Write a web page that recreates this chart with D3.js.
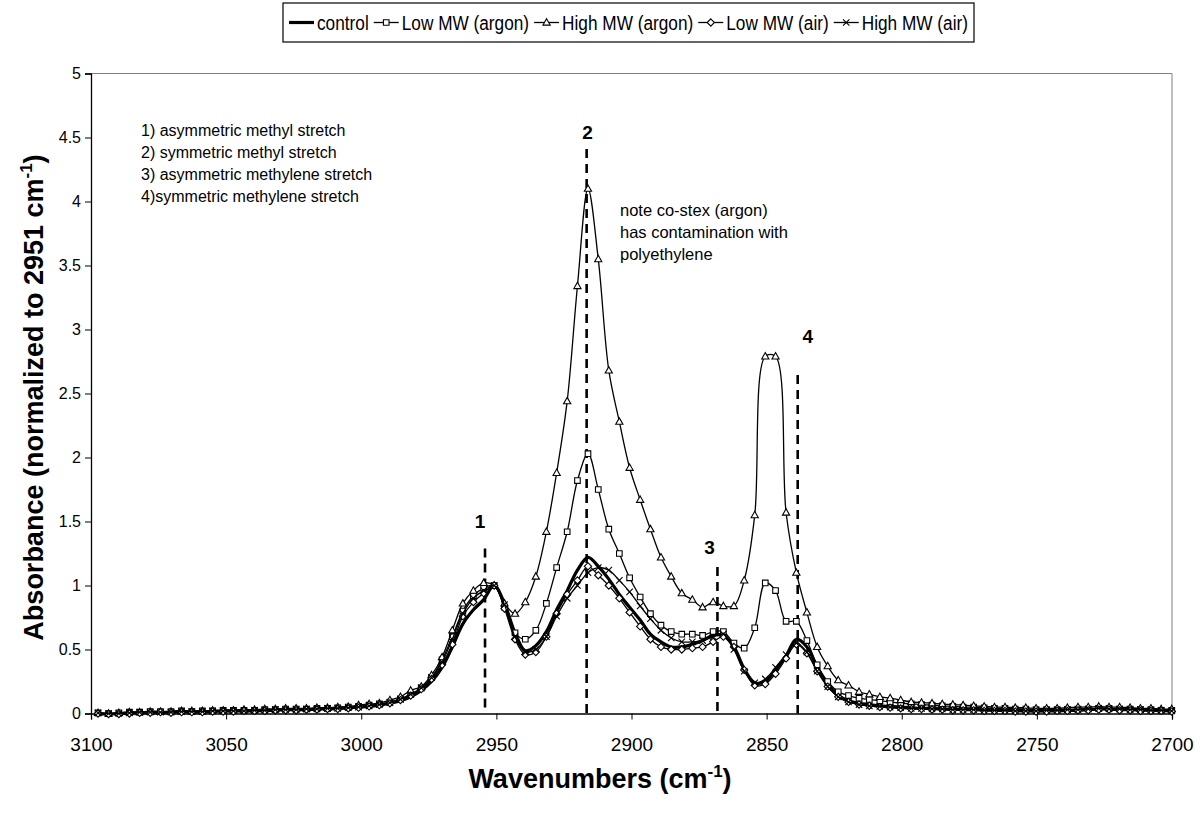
<!DOCTYPE html>
<html>
<head>
<meta charset="utf-8">
<script src="https://cdn.jsdelivr.net/npm/d3@7"></script>
<style>
  body { margin: 0; background: #fff; }
  text { font-family: "Liberation Sans", Arial, sans-serif; }
</style>
</head>
<body>
<svg id="chart" width="1203" height="818"></svg>
<script>
// Wavenumber grid (cm-1), one entry per recorded point
const wavenumbers = [
  3097.4, 3093.5, 3089.7, 3085.8, 3082.0, 3078.1, 3074.3, 3070.4, 3066.5, 3062.7,
  3058.8, 3055.0, 3051.1, 3047.3, 3043.4, 3039.5, 3035.7, 3031.8, 3028.0, 3024.1,
  3020.3, 3016.4, 3012.5, 3008.7, 3004.8, 3001.0, 2997.1, 2993.3, 2989.4, 2985.5,
  2981.7, 2977.8, 2974.0, 2970.1, 2966.3, 2962.4, 2958.5, 2954.7, 2950.8, 2947.0,
  2943.1, 2939.3, 2935.4, 2931.5, 2927.7, 2923.8, 2920.0, 2916.1, 2912.3, 2908.4,
  2904.5, 2900.7, 2896.8, 2893.0, 2889.1, 2885.3, 2881.4, 2877.5, 2873.7, 2869.8,
  2866.0, 2862.1, 2858.3, 2854.4, 2850.5, 2846.7, 2842.8, 2839.0, 2835.1, 2831.3,
  2827.4, 2823.5, 2819.7, 2815.8, 2812.0, 2808.1, 2804.3, 2800.4, 2796.5, 2792.7,
  2788.8, 2785.0, 2781.1, 2777.3, 2773.4, 2769.5, 2765.7, 2761.8, 2758.0, 2754.1,
  2750.3, 2746.4, 2742.5, 2738.7, 2734.8, 2731.0, 2727.1, 2723.3, 2719.4, 2715.5,
  2711.7, 2707.8, 2704.0, 2700.1
];

// Absorbance, normalized to the 2951 cm-1 band
const control = [
  0.00, -0.005, 0.00, 0.005, 0.005, 0.01, 0.01, 0.01, 0.015, 0.01,
  0.015, 0.015, 0.02, 0.02, 0.02, 0.02, 0.025, 0.025, 0.03, 0.03,
  0.03, 0.035, 0.035, 0.04, 0.045, 0.05, 0.055, 0.065, 0.08, 0.10,
  0.13, 0.18, 0.25, 0.36, 0.52, 0.70, 0.81, 0.89, 1.00, 0.86,
  0.63, 0.49, 0.53, 0.64, 0.81, 0.96, 1.12, 1.22, 1.15, 1.05,
  0.93, 0.83, 0.73, 0.62, 0.56, 0.52, 0.52, 0.54, 0.57, 0.61,
  0.61, 0.52, 0.35, 0.24, 0.25, 0.34, 0.45, 0.58, 0.52, 0.36,
  0.23, 0.14, 0.10, 0.08, 0.07, 0.06, 0.055, 0.05, 0.045, 0.04,
  0.04, 0.035, 0.035, 0.03, 0.03, 0.03, 0.025, 0.025, 0.025, 0.02,
  0.02, 0.02, 0.02, 0.025, 0.025, 0.03, 0.035, 0.035, 0.03, 0.03,
  0.03, 0.025, 0.025, 0.02
];

const lowMwArgon = [
  0.005, 0.00, 0.005, 0.01, 0.01, 0.015, 0.015, 0.015, 0.02, 0.015,
  0.02, 0.02, 0.025, 0.025, 0.025, 0.025, 0.03, 0.03, 0.035, 0.035,
  0.035, 0.04, 0.04, 0.045, 0.05, 0.055, 0.065, 0.075, 0.09, 0.115,
  0.15, 0.20, 0.28, 0.42, 0.60, 0.80, 0.92, 0.98, 1.00, 0.83,
  0.63, 0.58, 0.65, 0.86, 1.14, 1.42, 1.82, 2.03, 1.75, 1.44,
  1.25, 1.06, 0.91, 0.78, 0.69, 0.64, 0.62, 0.62, 0.61, 0.64,
  0.64, 0.55, 0.51, 0.67, 1.02, 0.96, 0.72, 0.72, 0.57, 0.38,
  0.25, 0.17, 0.14, 0.12, 0.11, 0.10, 0.09, 0.08, 0.075, 0.07,
  0.065, 0.06, 0.055, 0.05, 0.05, 0.045, 0.04, 0.04, 0.035, 0.035,
  0.03, 0.03, 0.03, 0.03, 0.035, 0.035, 0.04, 0.04, 0.035, 0.035,
  0.03, 0.03, 0.025, 0.025
];

const highMwArgon = [
  0.005, 0.00, 0.005, 0.01, 0.01, 0.015, 0.015, 0.015, 0.02, 0.02,
  0.02, 0.025, 0.025, 0.025, 0.03, 0.03, 0.035, 0.035, 0.04, 0.04,
  0.04, 0.045, 0.045, 0.05, 0.053, 0.066, 0.074, 0.08, 0.105, 0.13,
  0.18, 0.21, 0.30, 0.44, 0.65, 0.86, 0.96, 1.02, 1.00, 0.86,
  0.78, 0.87, 1.07, 1.42, 1.88, 2.44, 3.34, 4.10, 3.55, 2.68,
  2.28, 1.92, 1.67, 1.44, 1.22, 1.07, 0.94, 0.89, 0.83, 0.87,
  0.84, 0.84, 1.04, 1.55, 2.79, 2.79, 1.57, 1.10, 0.79, 0.52,
  0.37, 0.26, 0.22, 0.17, 0.15, 0.13, 0.12, 0.105, 0.09, 0.085,
  0.08, 0.074, 0.07, 0.065, 0.06, 0.055, 0.05, 0.05, 0.045, 0.045,
  0.04, 0.04, 0.04, 0.045, 0.05, 0.05, 0.055, 0.05, 0.05, 0.045,
  0.04, 0.04, 0.035, 0.035
];

const lowMwAir = [
  0.00, -0.005, -0.005, 0.00, 0.005, 0.005, 0.01, 0.005, 0.01, 0.01,
  0.01, 0.015, 0.015, 0.015, 0.02, 0.02, 0.02, 0.025, 0.025, 0.025,
  0.03, 0.03, 0.035, 0.035, 0.04, 0.045, 0.055, 0.065, 0.08, 0.105,
  0.14, 0.19, 0.27, 0.38, 0.54, 0.76, 0.87, 0.94, 1.00, 0.82,
  0.58, 0.46, 0.48, 0.60, 0.78, 0.93, 1.04, 1.15, 1.08, 1.00,
  0.90, 0.79, 0.68, 0.58, 0.52, 0.50, 0.50, 0.51, 0.52, 0.56,
  0.60, 0.52, 0.34, 0.22, 0.23, 0.31, 0.43, 0.54, 0.47, 0.33,
  0.21, 0.13, 0.09, 0.07, 0.06, 0.05, 0.045, 0.04, 0.035, 0.035,
  0.03, 0.03, 0.025, 0.025, 0.025, 0.02, 0.02, 0.02, 0.015, 0.015,
  0.015, 0.015, 0.02, 0.02, 0.025, 0.025, 0.03, 0.03, 0.025, 0.025,
  0.02, 0.02, 0.02, 0.015
];

const highMwAir = [
  0.005, 0.00, 0.00, 0.005, 0.01, 0.01, 0.01, 0.01, 0.015, 0.015,
  0.015, 0.02, 0.02, 0.02, 0.02, 0.025, 0.025, 0.03, 0.03, 0.03,
  0.035, 0.035, 0.04, 0.04, 0.045, 0.05, 0.06, 0.07, 0.085, 0.11,
  0.15, 0.20, 0.28, 0.40, 0.58, 0.78, 0.90, 0.96, 1.00, 0.85,
  0.60, 0.48, 0.50, 0.60, 0.76, 0.90, 1.00, 1.10, 1.14, 1.12,
  1.04, 0.95, 0.84, 0.74, 0.65, 0.59, 0.56, 0.56, 0.57, 0.60,
  0.62, 0.50, 0.33, 0.24, 0.27, 0.36, 0.46, 0.55, 0.48, 0.33,
  0.21, 0.13, 0.09, 0.07, 0.06, 0.055, 0.05, 0.045, 0.04, 0.04,
  0.035, 0.035, 0.03, 0.03, 0.03, 0.025, 0.025, 0.025, 0.02, 0.02,
  0.02, 0.025, 0.025, 0.03, 0.03, 0.035, 0.04, 0.035, 0.035, 0.03,
  0.03, 0.025, 0.025, 0.02
];

const seriesNames = ["control", "Low MW (argon)", "High MW (argon)", "Low MW (air)", "High MW (air)"];
const seriesMarkers = ["none", "square", "triangle", "diamond", "cross"];

const xTickValues = [3100, 3050, 3000, 2950, 2900, 2850, 2800, 2750, 2700];
const yTickValues = [0, 0.5, 1, 1.5, 2, 2.5, 3, 3.5, 4, 4.5, 5];

// Band assignments: marker line position (cm-1) and where the dashed line starts (absorbance)
const bandLabels = ["1", "2", "3", "4"];
const bandWavenumbers = [2954.2, 2916.6, 2868.2, 2838.5];
const bandLineTops = [1.29, 4.41, 1.145, 2.645];

const assignmentNotes = [
  "1) asymmetric methyl stretch",
  "2) symmetric methyl stretch",
  "3) asymmetric methylene stretch",
  "4)symmetric methylene stretch"
];
const contaminationNote = ["note co-stex (argon)", "has contamination with", "polyethylene"];

// ---------------------------------------------------------------------------
const svg = d3.select("#chart");
const plot = { left: 91, right: 1172, top: 73.5, bottom: 713.5 };

const x = d3.scaleLinear().domain([3100, 2700]).range([plot.left, plot.right]);
const y = d3.scaleLinear().domain([0, 5]).range([plot.bottom, plot.top]);

svg.append("rect").attr("width", 1203).attr("height", 818).attr("fill", "#fff");

// plot frame (top / right edges)
svg.append("path")
  .attr("d", `M${plot.left},${plot.top}H${plot.right}V${plot.bottom}`)
  .attr("fill", "none").attr("stroke", "#808080").attr("stroke-width", 1);

// axes
const xAxis = d3.axisBottom(x).tickValues(xTickValues).tickSize(6).tickFormat(d3.format("d"));
const gx = svg.append("g").attr("transform", `translate(0,${plot.bottom})`).call(xAxis);
gx.select(".domain").attr("stroke", "#000").attr("stroke-width", 1.3);
gx.selectAll(".tick line").attr("stroke", "#000");
gx.selectAll(".tick text").attr("font-size", 19).attr("y", 24).attr("dy", "0.71em")
  .style("font-family", '"Liberation Sans", Arial, sans-serif');

const yAxis = d3.axisLeft(y).tickValues(yTickValues).tickSize(6).tickFormat(d => String(d));
const gy = svg.append("g").attr("transform", `translate(${plot.left},0)`).call(yAxis);
gy.select(".domain").attr("stroke", "#000").attr("stroke-width", 1.3);
gy.selectAll(".tick line").attr("stroke", "#000");
gy.selectAll(".tick text").attr("font-size", 16).attr("x", -10)
  .style("font-family", '"Liberation Sans", Arial, sans-serif');

// axis titles
const xTitle = svg.append("text")
  .attr("x", 600).attr("y", 788)
  .attr("text-anchor", "middle").attr("font-size", 27).attr("font-weight", "bold");
xTitle.append("tspan").text("Wavenumbers (cm");
xTitle.append("tspan").attr("font-size", 17).attr("dy", -11).text("-1");
xTitle.append("tspan").attr("dy", 11).text(")");

const yTitle = svg.append("text")
  .attr("transform", `translate(43,${(plot.top + plot.bottom) / 2 + 4}) rotate(-90)`)
  .attr("text-anchor", "middle").attr("font-size", 27).attr("font-weight", "bold");
yTitle.append("tspan").text("Absorbance (normalized to 2951 cm");
yTitle.append("tspan").attr("font-size", 17).attr("dy", -11).text("-1");
yTitle.append("tspan").attr("dy", 11).text(")");

// dashed band markers
const bands = bandLabels.map((label, i) => ({ label, wn: bandWavenumbers[i], top: bandLineTops[i] }));
svg.append("g").selectAll("line").data(bands).join("line")
  .attr("x1", d => x(d.wn)).attr("x2", d => x(d.wn))
  .attr("y1", d => y(d.top)).attr("y2", plot.bottom)
  .attr("stroke", "#000").attr("stroke-width", 2.6).attr("stroke-dasharray", "9,6");

const labelOffsets = [[-5, -20], [1, -10], [-8, -13], [10, -32]];
svg.append("g").selectAll("text").data(bands).join("text")
  .attr("x", (d, i) => x(d.wn) + labelOffsets[i][0])
  .attr("y", (d, i) => y(d.top) + labelOffsets[i][1])
  .attr("text-anchor", "middle").attr("font-size", 19).attr("font-weight", "bold")
  .text(d => d.label);

// series
const allValues = [control, lowMwArgon, highMwArgon, lowMwAir, highMwAir];
const series = seriesNames.map((name, s) => ({
  name, marker: seriesMarkers[s],
  points: wavenumbers.map((wn, i) => ({ wn, v: allValues[s][i] }))
}));

const line = d3.line().x(d => x(d.wn)).y(d => y(d.v)).curve(d3.curveCatmullRom.alpha(0.5));

function markerPath(type) {
  switch (type) {
    case "square": return "M-2.8,-2.8H2.8V2.8H-2.8Z";
    case "triangle": return "M0,-3.8L3.6,2.6H-3.6Z";
    case "diamond": return "M0,-3.6L3.6,0L0,3.6L-3.6,0Z";
    case "cross": return "M-3.2,-3.2L3.2,3.2M-3.2,3.2L3.2,-3.2";
    default: return "";
  }
}

series.forEach(s => {
  const g = svg.append("g");
  g.append("path").datum(s.points)
    .attr("d", line).attr("fill", "none").attr("stroke", "#000")
    .attr("stroke-width", s.marker === "none" ? 3.2 : 1.3)
    .attr("stroke-linejoin", "round");
  if (s.marker !== "none") {
    g.selectAll("path.m").data(s.points).join("path").attr("class", "m")
      .attr("transform", d => `translate(${x(d.wn)},${y(d.v)})`)
      .attr("d", markerPath(s.marker))
      .attr("fill", s.marker === "cross" ? "none" : "#fff")
      .attr("stroke", "#000").attr("stroke-width", 1.1);
  }
});

// band assignment notes
const notes = svg.append("text").attr("x", 141).attr("y", 136).attr("font-size", 16);
assignmentNotes.forEach((t, i) => notes.append("tspan").attr("x", 141).attr("dy", i ? 22 : 0).text(t));

const note2 = svg.append("text").attr("x", 620).attr("y", 216).attr("font-size", 16.5);
contaminationNote.forEach((t, i) => note2.append("tspan").attr("x", 620).attr("dy", i ? 22 : 0).text(t));

// legend: box, then entries laid out left to right and condensed to fit the box
const boxLeft = 283, boxRight = 974, boxTop = 3, boxBottom = 42;
const legend = svg.append("g");
legend.append("rect")
  .attr("x", boxLeft).attr("y", boxTop).attr("width", boxRight - boxLeft).attr("height", boxBottom - boxTop)
  .attr("fill", "#fff").attr("stroke", "#000").attr("stroke-width", 1.2);

const legendFont = 20;
const sampleLen = 25, textGap = 3, itemGap = 5, pad = 6;
const entries = series.map(s => {
  const g = legend.append("g");
  g.append("line").attr("x1", 0).attr("x2", sampleLen)
    .attr("stroke", "#000").attr("stroke-width", s.marker === "none" ? 3.2 : 1.3);
  if (s.marker !== "none") {
    g.append("path").attr("transform", `translate(${sampleLen / 2},0)`)
      .attr("d", markerPath(s.marker))
      .attr("fill", s.marker === "cross" ? "none" : "#fff")
      .attr("stroke", "#000").attr("stroke-width", 1.1);
  }
  const t = g.append("text").attr("x", sampleLen + textGap).attr("y", 7).attr("font-size", legendFont).text(s.name);
  return { g, t, natural: t.node().getComputedTextLength() };
});
const fixed = entries.length * (sampleLen + textGap) + (entries.length - 1) * itemGap + 2 * pad;
const squeeze = Math.min(1, (boxRight - boxLeft - fixed) / d3.sum(entries, e => e.natural));
let cursor = boxLeft + pad;
entries.forEach(e => {
  const w = e.natural * squeeze;
  e.t.attr("textLength", w).attr("lengthAdjust", "spacingAndGlyphs");
  e.g.attr("transform", `translate(${cursor},${(boxTop + boxBottom) / 2})`);
  cursor += sampleLen + textGap + w + itemGap;
});
</script>
</body>
</html>
